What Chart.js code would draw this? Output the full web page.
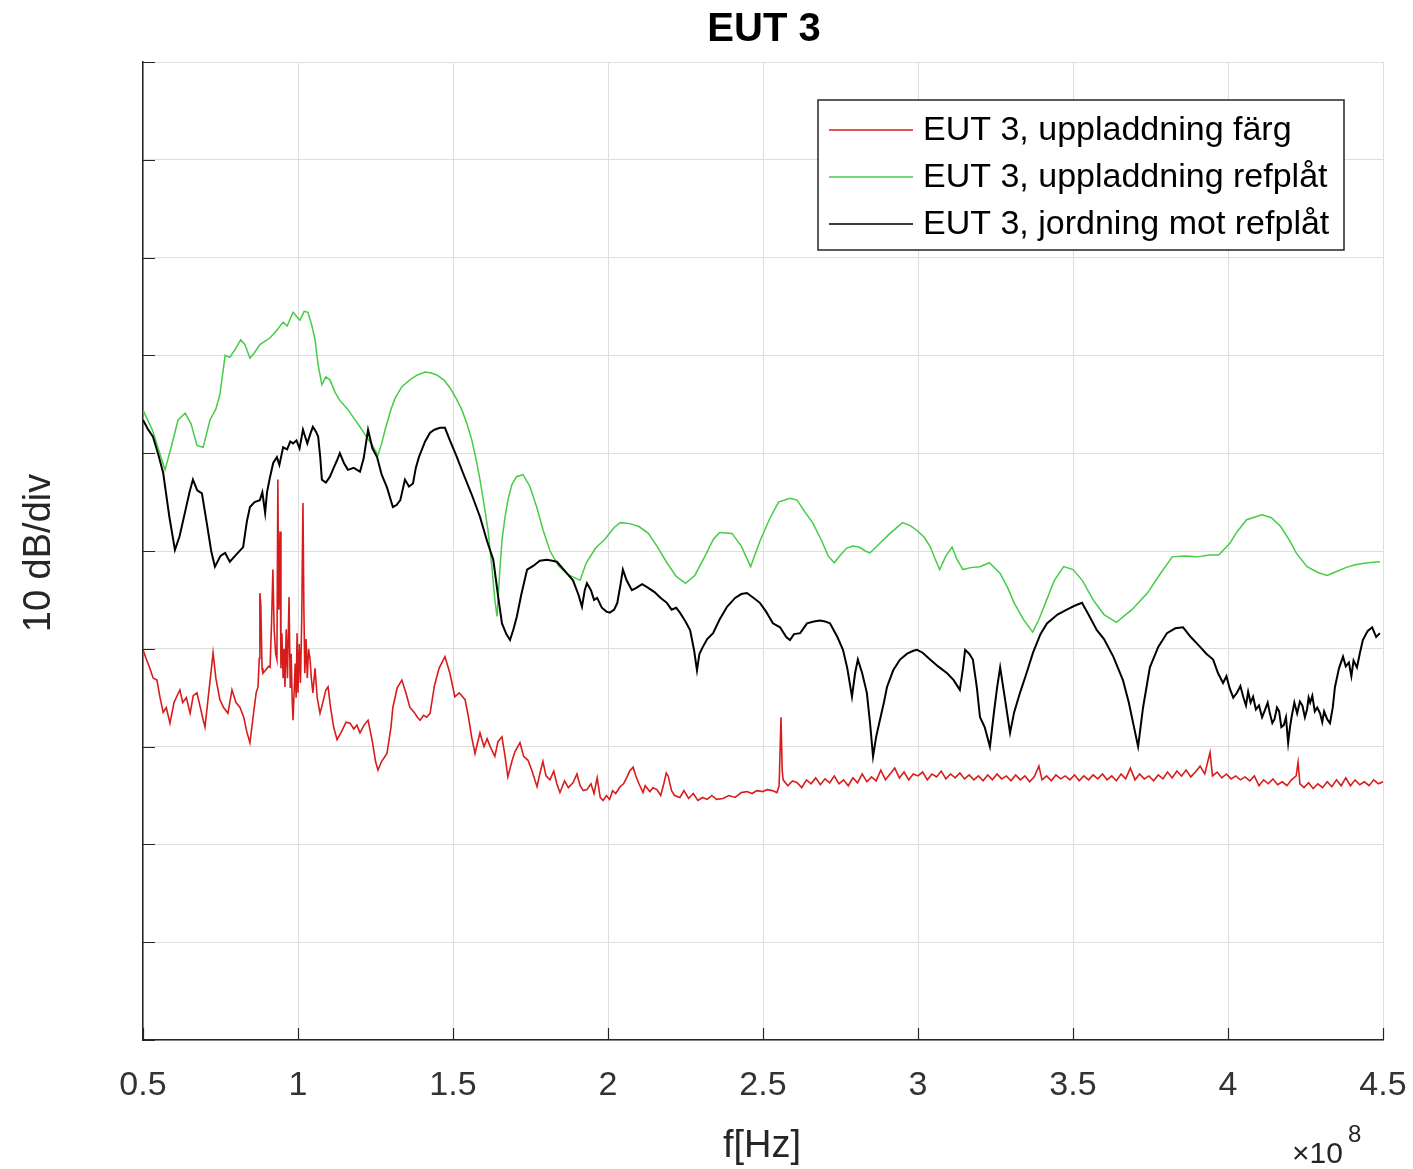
<!DOCTYPE html>
<html>
<head>
<meta charset="utf-8">
<title>EUT 3</title>
<script src="https://cdn.jsdelivr.net/npm/chart.js"></script>
<style>
  body { margin: 0; background: #fff; }
  #wrap { width: 1413px; height: 1169px; }
</style>
</head>
<body>
<div id="wrap"><canvas id="eut" width="1413" height="1169"></canvas></div>
<script>
// x in units of 1e8 Hz, y in divisions (10 dB/div)
const seriesLabels = ['EUT 3, uppladdning färg', 'EUT 3, uppladdning refplåt', 'EUT 3, jordning mot refplåt'];
const seriesColors = ['#d81c1c', '#46cc46', '#000000'];
const xTickValues = [0.5, 1, 1.5, 2, 2.5, 3, 3.5, 4, 4.5];

const redX = [0.5,0.51,0.52,0.533,0.545,0.555,0.565,0.575,0.587,0.6,0.61,0.619,0.628,0.64,0.652,0.662,0.674,0.685,0.692,0.7,0.712,0.72,0.726,0.735,0.748,0.76,0.774,0.787,0.8,0.813,0.825,0.835,0.845,0.855,0.865,0.871,0.875,0.877,0.88,0.884,0.887,0.895,0.905,0.91,0.915,0.919,0.923,0.928,0.932,0.935,0.938,0.942,0.945,0.948,0.952,0.955,0.958,0.962,0.966,0.971,0.975,0.978,0.981,0.984,0.988,0.991,0.994,0.997,1.0,1.004,1.008,1.012,1.016,1.019,1.022,1.026,1.03,1.034,1.039,1.043,1.048,1.055,1.062,1.071,1.08,1.09,1.097,1.105,1.115,1.126,1.14,1.155,1.168,1.18,1.19,1.2,1.213,1.226,1.24,1.25,1.258,1.27,1.287,1.3,1.306,1.32,1.335,1.348,1.361,1.375,1.385,1.394,1.405,1.415,1.426,1.44,1.455,1.474,1.49,1.506,1.52,1.539,1.55,1.56,1.571,1.58,1.587,1.6,1.61,1.62,1.635,1.645,1.658,1.668,1.677,1.69,1.7,1.716,1.728,1.742,1.755,1.771,1.78,1.79,1.8,1.813,1.825,1.835,1.845,1.86,1.872,1.887,1.9,1.91,1.92,1.932,1.945,1.955,1.965,1.975,1.984,1.995,2.005,2.015,2.025,2.039,2.05,2.06,2.07,2.081,2.09,2.1,2.113,2.12,2.135,2.145,2.158,2.17,2.18,2.188,2.194,2.205,2.215,2.232,2.245,2.26,2.275,2.29,2.305,2.32,2.335,2.35,2.371,2.39,2.41,2.43,2.448,2.465,2.48,2.5,2.513,2.53,2.545,2.552,2.558,2.562,2.565,2.58,2.595,2.61,2.625,2.64,2.655,2.67,2.685,2.7,2.715,2.73,2.745,2.76,2.775,2.79,2.805,2.82,2.835,2.85,2.865,2.88,2.895,2.91,2.925,2.94,2.955,2.97,2.985,3.0,3.015,3.03,3.045,3.06,3.075,3.09,3.105,3.12,3.135,3.15,3.165,3.18,3.195,3.21,3.225,3.24,3.255,3.27,3.285,3.3,3.315,3.33,3.345,3.36,3.375,3.39,3.4,3.415,3.43,3.445,3.46,3.475,3.49,3.505,3.52,3.535,3.55,3.565,3.58,3.595,3.61,3.625,3.64,3.655,3.67,3.685,3.7,3.715,3.73,3.745,3.76,3.775,3.79,3.805,3.82,3.835,3.85,3.865,3.88,3.895,3.91,3.925,3.942,3.95,3.965,3.98,3.995,4.01,4.025,4.04,4.055,4.07,4.085,4.1,4.115,4.13,4.145,4.16,4.175,4.19,4.205,4.22,4.226,4.232,4.245,4.26,4.275,4.29,4.305,4.32,4.335,4.35,4.365,4.38,4.395,4.41,4.425,4.44,4.455,4.47,4.485,4.5];
const redY = [3.99,3.9,3.82,3.7,3.68,3.5,3.35,3.4,3.24,3.45,3.52,3.58,3.45,3.5,3.34,3.52,3.55,3.4,3.3,3.2,3.55,3.78,3.96,3.7,3.48,3.4,3.34,3.58,3.45,3.4,3.3,3.15,3.04,3.3,3.55,3.61,3.9,4.57,4.45,3.8,3.75,3.78,3.82,3.81,4.3,4.81,4.2,3.95,3.89,5.73,4.4,5.2,3.8,4.16,3.7,4.0,3.61,4.2,3.7,4.53,3.6,3.95,3.5,3.27,3.6,3.85,3.5,4.16,3.55,4.05,3.65,4.3,5.49,4.4,3.75,4.1,3.7,4.0,3.89,3.7,3.55,3.8,3.5,3.34,3.45,3.58,3.61,3.4,3.2,3.07,3.15,3.25,3.24,3.18,3.22,3.14,3.22,3.27,3.05,2.85,2.76,2.85,2.93,3.2,3.4,3.6,3.68,3.55,3.4,3.35,3.3,3.27,3.32,3.3,3.34,3.62,3.8,3.92,3.75,3.51,3.55,3.48,3.3,3.1,2.93,3.05,3.14,3.0,3.08,3.0,2.9,3.05,3.1,2.9,2.69,2.85,2.95,3.04,2.9,2.86,2.75,2.59,2.72,2.85,2.7,2.66,2.75,2.62,2.53,2.65,2.58,2.63,2.72,2.6,2.55,2.56,2.62,2.52,2.68,2.48,2.45,2.5,2.46,2.55,2.52,2.59,2.62,2.68,2.75,2.79,2.7,2.62,2.53,2.6,2.54,2.58,2.56,2.5,2.62,2.73,2.7,2.55,2.5,2.48,2.55,2.47,2.52,2.45,2.48,2.46,2.5,2.46,2.47,2.5,2.48,2.53,2.54,2.52,2.55,2.54,2.56,2.55,2.53,2.6,3.3,2.75,2.66,2.6,2.65,2.63,2.58,2.66,2.62,2.68,2.61,2.67,2.63,2.7,2.62,2.66,2.6,2.68,2.63,2.72,2.64,2.69,2.65,2.76,2.66,2.72,2.78,2.68,2.74,2.66,2.72,2.7,2.74,2.66,2.72,2.69,2.75,2.67,2.72,2.68,2.73,2.67,2.71,2.66,2.7,2.65,2.71,2.66,2.72,2.67,2.7,2.65,2.71,2.66,2.7,2.64,2.69,2.8,2.66,2.7,2.65,2.71,2.67,2.7,2.66,2.71,2.65,2.7,2.66,2.71,2.67,2.72,2.66,2.7,2.65,2.72,2.67,2.78,2.66,2.72,2.67,2.7,2.65,2.71,2.67,2.74,2.68,2.75,2.7,2.76,2.69,2.74,2.8,2.72,2.94,2.7,2.74,2.68,2.72,2.67,2.7,2.66,2.69,2.65,2.7,2.6,2.66,2.62,2.67,2.61,2.64,2.6,2.66,2.7,2.84,2.62,2.58,2.63,2.57,2.62,2.58,2.64,2.59,2.66,2.6,2.68,2.6,2.66,2.61,2.64,2.6,2.66,2.62,2.64];

const greenX = [0.5,0.53,0.571,0.59,0.613,0.636,0.655,0.674,0.694,0.716,0.735,0.748,0.765,0.78,0.797,0.815,0.829,0.845,0.86,0.877,0.91,0.93,0.952,0.965,0.984,0.995,1.006,1.02,1.032,1.045,1.055,1.065,1.077,1.09,1.103,1.12,1.135,1.16,1.184,1.2,1.216,1.24,1.258,1.27,1.281,1.3,1.313,1.335,1.361,1.385,1.41,1.43,1.448,1.47,1.49,1.51,1.529,1.545,1.561,1.575,1.587,1.6,1.613,1.625,1.635,1.642,1.65,1.658,1.668,1.677,1.69,1.705,1.726,1.748,1.77,1.79,1.813,1.84,1.87,1.91,1.93,1.96,1.99,2.02,2.04,2.07,2.1,2.13,2.16,2.19,2.22,2.25,2.28,2.31,2.34,2.36,2.4,2.43,2.46,2.49,2.52,2.55,2.587,2.61,2.635,2.66,2.69,2.71,2.73,2.75,2.77,2.79,2.81,2.83,2.845,2.877,2.91,2.95,2.975,2.997,3.02,3.04,3.055,3.07,3.09,3.11,3.125,3.145,3.17,3.2,3.23,3.265,3.29,3.31,3.34,3.37,3.39,3.415,3.44,3.47,3.5,3.53,3.565,3.6,3.64,3.69,3.74,3.78,3.82,3.86,3.9,3.94,3.97,4.006,4.03,4.06,4.11,4.14,4.17,4.2,4.22,4.255,4.29,4.32,4.35,4.38,4.41,4.45,4.49];
const greenY = [6.44,6.24,5.83,6.05,6.34,6.41,6.3,6.08,6.06,6.34,6.45,6.6,7.0,6.98,7.06,7.16,7.11,6.97,7.03,7.11,7.18,7.25,7.34,7.3,7.44,7.4,7.36,7.45,7.44,7.3,7.16,6.9,6.7,6.78,6.75,6.62,6.54,6.45,6.34,6.27,6.19,6.08,5.98,6.1,6.24,6.45,6.56,6.68,6.75,6.8,6.83,6.82,6.8,6.75,6.67,6.56,6.44,6.3,6.13,5.93,5.73,5.48,5.21,4.85,4.5,4.33,4.75,5.11,5.35,5.52,5.68,5.76,5.78,5.66,5.45,5.22,5.0,4.85,4.76,4.7,4.88,5.03,5.12,5.24,5.29,5.28,5.25,5.18,5.04,4.88,4.74,4.67,4.75,4.93,5.12,5.19,5.18,5.05,4.84,5.1,5.32,5.5,5.54,5.52,5.4,5.29,5.1,4.95,4.88,4.96,5.03,5.05,5.04,5.0,4.98,5.08,5.18,5.29,5.26,5.21,5.14,5.04,4.92,4.81,4.95,5.04,4.92,4.81,4.83,4.84,4.88,4.77,4.62,4.47,4.3,4.17,4.3,4.5,4.7,4.84,4.81,4.7,4.5,4.35,4.27,4.4,4.57,4.76,4.94,4.95,4.94,4.96,4.96,5.08,5.2,5.32,5.37,5.34,5.25,5.1,4.98,4.84,4.78,4.75,4.79,4.83,4.86,4.88,4.89];

const blackX = [0.5,0.515,0.532,0.55,0.565,0.585,0.603,0.618,0.635,0.65,0.661,0.675,0.69,0.705,0.72,0.732,0.75,0.765,0.78,0.8,0.823,0.835,0.845,0.86,0.877,0.885,0.894,0.9,0.91,0.92,0.932,0.94,0.952,0.965,0.975,0.984,0.995,1.005,1.016,1.025,1.03,1.04,1.048,1.058,1.065,1.072,1.077,1.09,1.103,1.115,1.125,1.135,1.148,1.161,1.18,1.2,1.212,1.226,1.24,1.255,1.27,1.287,1.306,1.318,1.33,1.345,1.358,1.371,1.38,1.39,1.41,1.426,1.44,1.458,1.474,1.49,1.51,1.532,1.56,1.587,1.61,1.63,1.645,1.658,1.672,1.684,1.695,1.706,1.72,1.739,1.76,1.78,1.803,1.82,1.835,1.86,1.887,1.905,1.916,1.925,1.932,1.945,1.955,1.965,1.98,1.995,2.006,2.02,2.03,2.04,2.048,2.06,2.077,2.09,2.11,2.126,2.15,2.17,2.19,2.205,2.22,2.232,2.25,2.265,2.278,2.287,2.295,2.306,2.32,2.339,2.36,2.384,2.41,2.43,2.448,2.47,2.49,2.51,2.532,2.555,2.575,2.587,2.6,2.62,2.642,2.664,2.684,2.7,2.716,2.74,2.758,2.772,2.787,2.797,2.806,2.82,2.835,2.845,2.855,2.865,2.877,2.89,2.9,2.92,2.942,2.965,2.985,2.997,3.015,3.039,3.065,3.094,3.115,3.135,3.145,3.152,3.165,3.177,3.19,3.2,3.215,3.232,3.245,3.255,3.265,3.28,3.297,3.31,3.329,3.35,3.371,3.395,3.416,3.45,3.48,3.505,3.529,3.55,3.577,3.6,3.63,3.661,3.68,3.694,3.71,3.72,3.726,3.748,3.775,3.803,3.83,3.855,3.88,3.91,3.93,3.952,3.968,3.984,3.995,4.005,4.017,4.029,4.04,4.05,4.058,4.065,4.073,4.081,4.09,4.1,4.11,4.12,4.128,4.135,4.143,4.15,4.158,4.165,4.172,4.18,4.187,4.194,4.2,4.205,4.214,4.223,4.232,4.24,4.248,4.255,4.26,4.265,4.272,4.28,4.288,4.297,4.304,4.31,4.32,4.329,4.338,4.345,4.358,4.371,4.38,4.39,4.398,4.405,4.416,4.425,4.435,4.45,4.465,4.478,4.49];
const blackY = [6.34,6.25,6.17,5.98,5.8,5.35,5.01,5.15,5.39,5.6,5.73,5.62,5.59,5.3,5.0,4.84,4.95,4.98,4.89,4.96,5.04,5.3,5.45,5.5,5.52,5.6,5.39,5.6,5.76,5.9,5.96,5.88,6.06,6.04,6.12,6.1,6.13,6.05,6.24,6.15,6.1,6.2,6.27,6.22,6.17,5.95,5.73,5.7,5.76,5.85,5.92,6.0,5.9,5.83,5.85,5.81,5.95,6.24,6.05,5.96,5.78,5.65,5.45,5.47,5.52,5.73,5.66,5.69,5.85,5.96,6.12,6.21,6.24,6.26,6.26,6.13,5.98,5.8,5.58,5.35,5.1,4.91,4.55,4.26,4.15,4.09,4.2,4.33,4.55,4.81,4.85,4.9,4.91,4.9,4.89,4.8,4.7,4.55,4.43,4.6,4.67,4.6,4.5,4.52,4.42,4.38,4.37,4.4,4.47,4.65,4.81,4.7,4.6,4.62,4.66,4.63,4.58,4.52,4.47,4.4,4.42,4.37,4.28,4.19,3.98,3.78,3.95,4.02,4.1,4.16,4.3,4.43,4.52,4.56,4.57,4.52,4.47,4.38,4.26,4.22,4.12,4.09,4.15,4.16,4.26,4.28,4.29,4.28,4.26,4.12,3.99,3.8,3.51,3.75,3.89,3.75,3.55,3.25,2.9,3.1,3.27,3.45,3.61,3.78,3.89,3.95,3.98,3.99,3.96,3.89,3.82,3.75,3.68,3.58,3.8,3.99,3.95,3.89,3.6,3.3,3.2,3.0,3.35,3.6,3.81,3.5,3.14,3.35,3.55,3.75,3.96,4.15,4.26,4.35,4.4,4.44,4.47,4.35,4.19,4.1,3.92,3.68,3.45,3.24,3.0,3.25,3.4,3.81,4.02,4.16,4.21,4.22,4.12,4.02,3.95,3.89,3.75,3.65,3.72,3.6,3.5,3.55,3.62,3.5,3.42,3.56,3.45,3.51,3.38,3.42,3.3,3.38,3.45,3.34,3.24,3.28,3.4,3.36,3.2,3.22,3.3,3.04,3.2,3.3,3.45,3.34,3.46,3.42,3.3,3.38,3.5,3.45,3.52,3.36,3.4,3.34,3.25,3.36,3.28,3.24,3.4,3.61,3.8,3.92,3.82,3.86,3.72,3.88,3.81,3.95,4.09,4.18,4.22,4.12,4.16];

const xs = [redX, greenX, blackX];
const ys = [redY, greenY, blackY];
const widths = [1.6, 1.5, 2];

const fontFam = '"Liberation Sans", Arial, Helvetica, sans-serif';

const datasets = seriesLabels.map((lab, i) => ({
  label: lab,
  data: xs[i].map((x, j) => ({ x: x, y: ys[i][j] })),
  borderColor: seriesColors[i],
  backgroundColor: seriesColors[i],
  borderWidth: widths[i],
  pointRadius: 0,
  tension: 0,
  fill: false,
  order: i === 0 ? 0 : (i === 2 ? 1 : 2)
}));

const decorations = {
  id: 'decorations',
  afterDraw(chart) {
    const ctx = chart.ctx;
    const xs_ = chart.scales.x, ys_ = chart.scales.y;
    const area = chart.chartArea;
    ctx.save();

    // inward tick marks
    ctx.strokeStyle = '#262626';
    ctx.lineWidth = 1.2;
    ctx.beginPath();
    xTickValues.forEach(v => {
      const px = Math.round(xs_.getPixelForValue(v)) + 0.5;
      ctx.moveTo(px, area.bottom);
      ctx.lineTo(px, area.bottom - 12);
    });
    for (let v = 0; v <= 10; v++) {
      const py = Math.round(ys_.getPixelForValue(v)) + 0.5;
      ctx.moveTo(area.left, py);
      ctx.lineTo(area.left + 12, py);
    }
    ctx.stroke();

    // title
    ctx.fillStyle = '#000';
    ctx.font = 'bold 40px ' + fontFam;
    ctx.textAlign = 'center';
    ctx.textBaseline = 'alphabetic';
    ctx.fillText('EUT 3', 764, 41);

    // axis labels
    ctx.fillStyle = '#262626';
    ctx.font = '38px ' + fontFam;
    ctx.fillText('f[Hz]', 762, 1157);
    ctx.save();
    ctx.translate(50, 553);
    ctx.rotate(-Math.PI / 2);
    ctx.fillText('10 dB/div', 0, 0);
    ctx.restore();

    // exponent
    ctx.textAlign = 'left';
    ctx.font = '30px ' + fontFam;
    ctx.fillText('\u00d710', 1292, 1163);
    ctx.font = '24px ' + fontFam;
    ctx.fillText('8', 1348, 1142);

    // legend
    const lx = 818, ly = 100, lw = 526, lh = 150;
    ctx.fillStyle = '#fff';
    ctx.fillRect(lx, ly, lw, lh);
    ctx.strokeStyle = '#262626';
    ctx.lineWidth = 1.5;
    ctx.strokeRect(lx, ly, lw, lh);
    ctx.font = '34px ' + fontFam;
    ctx.textBaseline = 'middle';
    chart.data.datasets.forEach((ds, i) => {
      const cy = 130 + i * 47;
      ctx.strokeStyle = ds.borderColor;
      ctx.lineWidth = 1.5;
      ctx.beginPath();
      ctx.moveTo(829, cy);
      ctx.lineTo(913, cy);
      ctx.stroke();
      ctx.fillStyle = '#000';
      ctx.fillText(ds.label, 923, cy + 1);
    });
    ctx.restore();
  }
};

new Chart(document.getElementById('eut').getContext('2d'), {
  type: 'line',
  data: { datasets: datasets },
  options: {
    responsive: false,
    animation: false,
    devicePixelRatio: 1,
    layout: { padding: { left: 0, top: 62, right: 30, bottom: 0 } },
    plugins: { legend: { display: false }, title: { display: false }, tooltip: { enabled: false } },
    scales: {
      x: {
        type: 'linear',
        min: 0.5,
        max: 4.5,
        afterBuildTicks: s => { s.ticks = xTickValues.map(v => ({ value: v })); },
        afterFit: s => { s.height = 129; s.paddingLeft = 0; s.paddingRight = 0; },
        ticks: {
          color: '#333333',
          font: { family: fontFam, size: 34 },
          padding: 25,
          maxRotation: 0,
          autoSkip: false,
          callback: v => String(v)
        },
        grid: { color: '#dedede', lineWidth: 1, drawTicks: false, tickLength: 0, tickColor: 'rgba(0,0,0,0)' },
        border: { color: '#262626', width: 1.5 }
      },
      y: {
        type: 'linear',
        min: 0,
        max: 10,
        afterFit: s => { s.width = 143; s.paddingTop = 0; s.paddingBottom = 0; },
        ticks: { display: false, stepSize: 1 },
        grid: { color: '#dedede', lineWidth: 1, drawTicks: false, tickLength: 0, tickColor: 'rgba(0,0,0,0)' },
        border: { color: '#262626', width: 1.5 }
      }
    }
  },
  plugins: [decorations]
});
</script>
</body>
</html>
